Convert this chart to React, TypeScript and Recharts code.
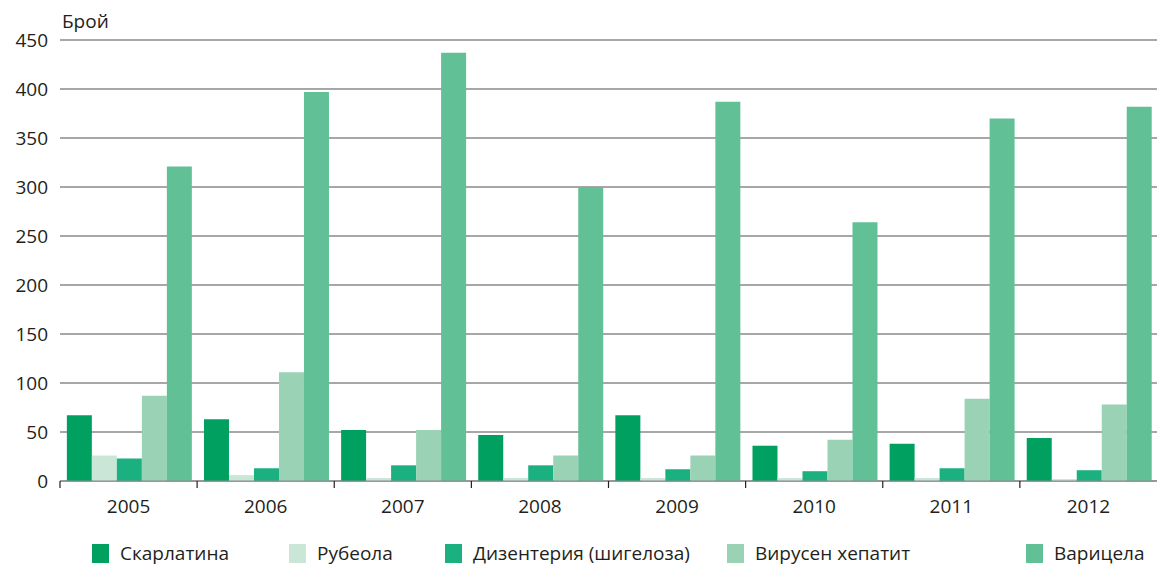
import { BarChart, Bar, XAxis, YAxis, CartesianGrid } from 'recharts'

const years = ['2005', '2006', '2007', '2008', '2009', '2010', '2011', '2012']
const scarlatina = [67, 63, 52, 47, 67, 36, 38, 44]
const rubeola = [26, 6, 3, 3, 3, 3, 3, 2]
const dysentery = [23, 13, 16, 16, 12, 10, 13, 11]
const hepatitis = [87, 111, 52, 26, 26, 42, 84, 78]
const varicella = [321, 397, 437, 300, 387, 264, 370, 382]
const yTicks = [0, 50, 100, 150, 200, 250, 300, 350, 400, 450]

const series = [
  { key: 'scarlatina', name: 'Скарлатина', color: '#00a160' },
  { key: 'rubeola', name: 'Рубеола', color: '#c9e6d7' },
  { key: 'dysentery', name: 'Дизентерия (шигелоза)', color: '#1ab07f' },
  { key: 'hepatitis', name: 'Вирусен хепатит', color: '#9ad2b5' },
  { key: 'varicella', name: 'Варицела', color: '#62c097' },
]

const data = years.map((y, i) => ({
  year: y,
  scarlatina: scarlatina[i],
  rubeola: rubeola[i],
  dysentery: dysentery[i],
  hepatitis: hepatitis[i],
  varicella: varicella[i],
}))

const W = 1157
const H = 564
const PLOT_LEFT = 60
const PLOT_W = W - PLOT_LEFT
const FONT = '"Open Sans", sans-serif'
const TEXT = '#231f20'

// legend x positions of each swatch
const legendX = [92, 289, 445, 727, 1026]

function YearTick(props: any) {
  const { x, y, payload } = props
  const half = PLOT_W / years.length / 2
  return (
    <g>
      <line x1={x - half} x2={x - half} y1={y} y2={y + 7} stroke="#231f20" strokeWidth={1.2} />
      <text x={x} y={y + 32} textAnchor="middle" fontSize={19} fill={TEXT} fontFamily={FONT}>
        {payload.value}
      </text>
    </g>
  )
}

export default function App() {
  return (
    <div style={{ position: 'absolute', left: 0, top: 0, width: W, height: H, background: '#fff', fontFamily: FONT }}>
      <span style={{ position: 'absolute', left: 62, top: 8, fontSize: 19, color: TEXT }}>Брой</span>
      <BarChart
        width={W}
        height={H}
        data={data}
        margin={{ top: 40, right: 0, left: 0, bottom: 43 }}
        barCategoryGap="5%"
        barGap={0}
      >
        <CartesianGrid vertical={false} stroke="#8a8a8a" strokeWidth={1.3} />
        <YAxis
          width={PLOT_LEFT}
          domain={[0, 450]}
          ticks={yTicks}
          axisLine={false}
          tickLine={false}
          tickSize={0}
          tickMargin={12}
          tick={{ fontSize: 19, fill: TEXT, fontFamily: FONT }}
          interval={0}
        />
        <XAxis
          dataKey="year"
          axisLine={{ stroke: '#8a8a8a', strokeWidth: 1.2 }}
          tickLine={false}
          tickSize={0}
          tickMargin={0}
          tick={<YearTick />}
          height={40}
          interval={0}
        />
        {series.map((s) => (
          <Bar key={s.key} dataKey={s.key} name={s.name} fill={s.color} isAnimationActive={false} />
        ))}
      </BarChart>
      {series.map((s, i) => (
        <div key={s.key} style={{ position: 'absolute', left: legendX[i], top: 540, display: 'flex', alignItems: 'center' }}>
          <div style={{ width: 17, height: 19, background: s.color, marginRight: 11 }} />
          <span style={{ fontSize: 19, color: TEXT, whiteSpace: 'nowrap' }}>{s.name}</span>
        </div>
      ))}
    </div>
  )
}
